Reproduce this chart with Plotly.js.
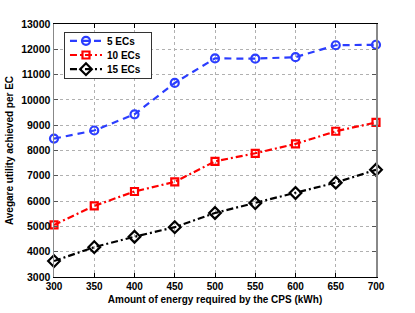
<!DOCTYPE html>
<html><head><meta charset="utf-8">
<script src="https://cdn.plot.ly/plotly-3.0.1.min.js"></script>
<style>body{margin:0;background:#fff}#c{width:415px;height:313px}</style>
</head><body><div id="c"></div>
<script>
const energy = [300, 350, 400, 450, 500, 550, 600, 650, 700];
const ec5 = [8470, 8790, 9430, 10670, 11640, 11630, 11690, 12160, 12180];
const ec10 = [5060, 5810, 6380, 6760, 7570, 7890, 8260, 8760, 9110];
const ec15 = [3630, 4180, 4590, 4970, 5530, 5920, 6320, 6730, 7240];
const names = ['5 ECs', '10 ECs', '15 ECs'];
const xTicks = [300, 350, 400, 450, 500, 550, 600, 650, 700];
const yTicks = [3000, 4000, 5000, 6000, 7000, 8000, 9000, 10000, 11000, 12000, 13000];

const F = 'Liberation Sans, Arial, sans-serif';
const traces = [
  {x: energy, y: ec5, name: names[0], mode: 'lines+markers', cliponaxis: false,
   line: {color: '#2b3dff', width: 2.2, dash: '7px,5px'},
   marker: {symbol: 'circle-open', size: 8, color: '#2b3dff', line: {width: 2.2}}},
  {x: energy, y: ec10, name: names[1], mode: 'lines+markers', cliponaxis: false,
   line: {color: '#ff0000', width: 2.2, dash: '7px,3px,2px,3px'},
   marker: {symbol: 'square-open', size: 7, color: '#ff0000', line: {width: 2.2}}},
  {x: energy, y: ec15, name: names[2], mode: 'lines+markers', cliponaxis: false,
   line: {color: '#000000', width: 2.2, dash: '7px,3px,2px,3px'},
   marker: {symbol: 'diamond-open', size: 9, color: '#000000', line: {width: 2.2}}}
];
const layout = {
  width: 415, height: 313,
  margin: {l: 54, r: 39, t: 24, b: 36},
  paper_bgcolor: '#fff', plot_bgcolor: '#fff',
  font: {family: F, size: 10, color: '#000'},
  showlegend: true,
  legend: {x: 0.031, y: 0.968, xanchor: 'left', yanchor: 'top',
    bgcolor: '#fff', bordercolor: '#333', borderwidth: 1,
    font: {family: F, size: 10, color: '#000', weight: 'bold'},
    tracegroupgap: 0, itemwidth: 32},
  xaxis: {range: [300, 700], tickvals: xTicks, ticktext: xTicks.map(v => '<b>' + v + '</b>'),
    showgrid: true, gridcolor: '#b0b0b0', griddash: 'dot', gridwidth: 1,
    showline: true, linecolor: '#000', linewidth: 1.2, mirror: 'ticks',
    ticks: 'inside', ticklen: 4, tickcolor: '#000', zeroline: false,
    tickfont: {family: F, size: 10, color: '#000'},
    title: {text: '<b>Amount of energy required by the CPS (kWh)</b>', standoff: 4,
      font: {family: F, size: 10, color: '#000'}}},
  yaxis: {range: [3000, 13000], tickvals: yTicks, ticktext: yTicks.map(v => '<b>' + v + '</b>'),
    showgrid: true, gridcolor: '#b0b0b0', griddash: 'dot', gridwidth: 1,
    showline: true, linecolor: '#888', linewidth: 1.5, mirror: 'ticks',
    ticks: 'inside', ticklen: 4, tickcolor: '#555', zeroline: false,
    tickfont: {family: F, size: 10.5, color: '#000'},
    title: {text: '<b>Avegare utility achieved per EC</b>', standoff: 5,
      font: {family: F, size: 10, color: '#000'}}}
};
Plotly.newPlot('c', traces, layout, {displayModeBar: false, staticPlot: true}).then(() => {
  // compact the legend rows to match the reference spacing
  const leg = document.querySelector('.legend');
  if (!leg) return;
  const items = leg.querySelectorAll('.traces');
  const pitch = 14.2, first = 8.7;
  items.forEach((t, i) => {
    const m = /translate\(\s*([-\d.]+)[ ,]+([-\d.]+)\s*\)/.exec(t.getAttribute('transform') || '');
    const x = m ? m[1] : 0;
    t.setAttribute('transform', 'translate(' + x + ',' + (first + i * pitch) + ')');
  });
  const bg = leg.querySelector('rect.bg');
  if (bg) { bg.setAttribute('height', 45.5); bg.setAttribute('width', 87.5); }
  const clip = document.querySelector('clipPath[id^="legend"] rect');
  if (clip) clip.setAttribute('height', 46);
});
</script></body></html>
